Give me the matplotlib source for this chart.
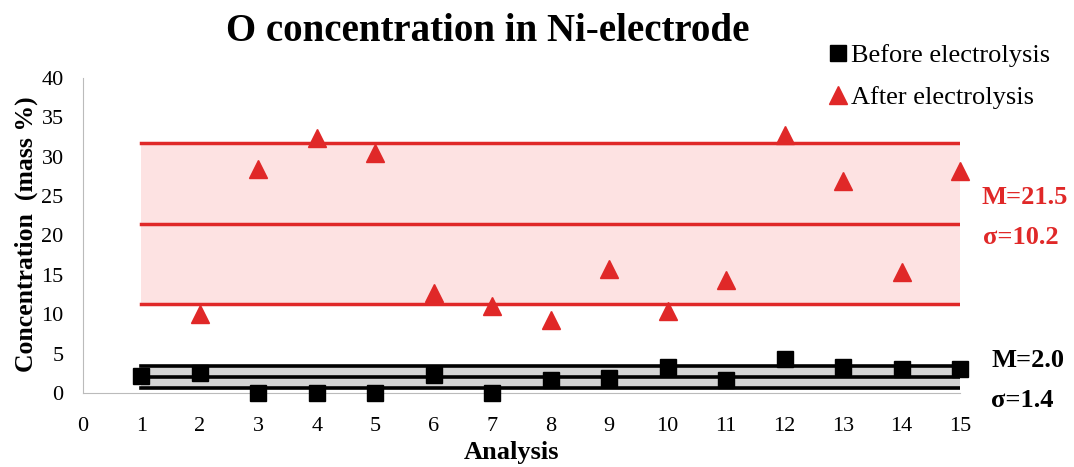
import matplotlib
matplotlib.use("Agg")
import matplotlib.pyplot as plt

plt.rcParams['font.family'] = ['Liberation Serif', 'DejaVu Serif']

# data
analysis = list(range(1, 16))
before = [2.1, 2.6, 0, 0, 0, 2.3, 0, 1.7, 1.9, 3.3, 1.6, 4.3, 3.3, 3.1, 3.1]
after_x = list(range(2, 16))
after = [10.0, 28.5, 32.4, 30.5, 12.7, 11.0, 9.3, 15.7, 10.4, 14.4, 32.8, 26.9, 15.4, 28.2]

after_mean, after_sd = 21.5, 10.2
before_mean, before_sd = 2.0, 1.4

red = '#e02828'

fig = plt.figure(figsize=(10.74, 4.67), dpi=100)
ax = fig.add_axes([0.0773, 0.1585, 0.8166, 0.6745])
ax.set_xlim(0, 15)
ax.set_ylim(0, 40)

# after band (mean +- sd)
band_x = [1, 15]
ax.fill_between(band_x, after_mean - after_sd, after_mean + after_sd, color='#fde2e2', lw=0, zorder=1)
for v in (after_mean - after_sd, after_mean, after_mean + after_sd):
    ax.plot(band_x, [v, v], color=red, lw=2.5, zorder=2)

# before band
ax.fill_between(band_x, before_mean - before_sd, before_mean + before_sd, color='#d4d4d4', lw=0, zorder=1)
for v in (before_mean - before_sd, before_mean, before_mean + before_sd):
    ax.plot(band_x, [v, v], color='black', lw=2.6, zorder=2)

ax.plot(analysis, before, ls='none', marker='s', ms=11.5, color='black',
        label='Before electrolysis', zorder=4, clip_on=False)
ax.plot(after_x, after, ls='none', marker='^', ms=13, color=red,
        label='After electrolysis', zorder=4, clip_on=False)

for s in ('top', 'right'):
    ax.spines[s].set_visible(False)
ax.spines['left'].set_color('#bbbbbb')
ax.spines['bottom'].set_color('#bbbbbb')
ax.tick_params(length=0, labelsize=16)
ax.tick_params(axis='x', pad=17)
ax.tick_params(axis='y', pad=14)
ax.set_xticks(range(0, 16))
ax.set_yticks(range(0, 41, 5))

ax.set_xlabel('Analysis', fontsize=19, fontweight='bold', va='top')
ax.xaxis.set_label_coords(0.489, -0.153)
ax.set_ylabel('Concentration  (mass %)', fontsize=18.5, fontweight='bold')
ax.yaxis.set_label_coords(-0.051, 0.505)
fig.text(0.454, 1 - 41 / 467, 'O concentration in Ni-electrode', fontsize=28,
         fontweight='bold', ha='center', va='baseline')

ax.legend(loc='center left', bbox_to_anchor=(0.852, 1.005), frameon=False, fontsize=19,
          handlelength=0.6, handletextpad=0.2, labelspacing=0.7, borderaxespad=0,
          borderpad=0)

ax.text(15.36, 24.8, 'M=21.5', color=red, fontsize=19, fontweight='bold', va='center')
ax.text(15.39, 19.7, '\u03c3=10.2', color=red, fontsize=19, fontweight='bold', va='center')
ax.text(15.53, 4.1, 'M=2.0', color='black', fontsize=19, fontweight='bold', va='center')
ax.text(15.53, -1.0, '\u03c3=1.4', color='black', fontsize=19, fontweight='bold', va='center')

fig.savefig('out.png', dpi=100)
